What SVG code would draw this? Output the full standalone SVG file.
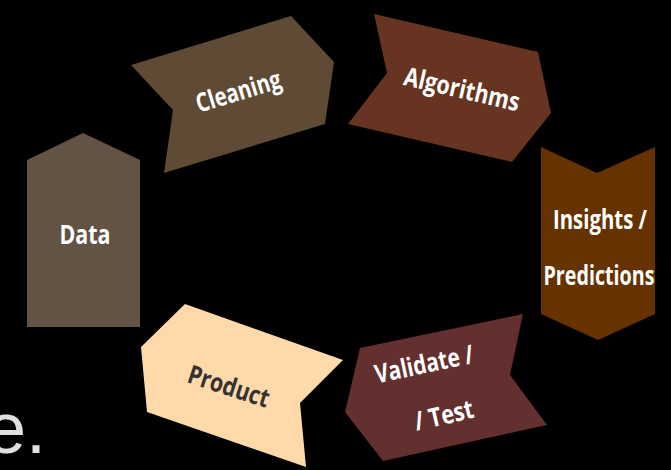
<svg xmlns="http://www.w3.org/2000/svg" width="671" height="470" viewBox="0 0 671 470">
  <style>
    .lbl { font-family: "Open Sans", "Liberation Sans", sans-serif; font-weight: bold; font-size: 26px; fill: #ffffff; text-anchor: middle; }
    .dark { fill: #333333; }
    .bg-text { font-family: "Liberation Sans", Arial, sans-serif; font-size: 72px; fill: #e0e0e0; }
  </style>
  <rect x="0" y="0" width="671" height="470" fill="#000000"/>
  <text class="bg-text" x="-14" y="453">e.</text>

  <g id="data">
    <polygon points="27,160 83,133 140,160 140,327 27,327" fill="#625344"/>
    <text class="lbl" x="85" y="244" textLength="51" lengthAdjust="spacingAndGlyphs">Data</text>
  </g>

  <g id="cleaning">
    <polygon points="131,65 291,16 334,62 325,124 164,173 173,110" fill="#5f4b35"/>
    <text class="lbl" transform="translate(241,100) rotate(-17)" x="0" y="0" textLength="88" lengthAdjust="spacingAndGlyphs">Cleaning</text>
  </g>

  <g id="algorithms">
    <polygon points="374,14 538,52 551,113 512,162 348,124 387,73" fill="#663420"/>
    <text class="lbl" transform="translate(460,98) rotate(13)" x="0" y="0" textLength="118" lengthAdjust="spacingAndGlyphs">Algorithms</text>
  </g>

  <g id="insights">
    <polygon points="541,147 597,173 655,147 655,314 598,340 541,314" fill="#663300"/>
    <text class="lbl" x="600" y="229" textLength="94" lengthAdjust="spacingAndGlyphs">Insights /</text>
    <text class="lbl" x="599" y="285" textLength="111" lengthAdjust="spacingAndGlyphs">Predictions</text>
  </g>

  <g id="validate">
    <polygon points="360,348 523,314 510,375 547,425 383,461 345,412" fill="#632f2f"/>
    <text class="lbl" transform="translate(426,373) rotate(-12)" x="0" y="0" textLength="100" lengthAdjust="spacingAndGlyphs">Validate /</text>
    <text class="lbl" transform="translate(446,424) rotate(-13)" x="0" y="0" textLength="60" lengthAdjust="spacingAndGlyphs">/ Test</text>
  </g>

  <g id="product">
    <polygon points="185,304 343,360 300,403 306,467 147,412 141,347" fill="#ffd9aa"/>
    <text class="lbl dark" transform="translate(226,395) rotate(18)" x="0" y="0" textLength="84" lengthAdjust="spacingAndGlyphs">Product</text>
  </g>

  <g id="connectors"/>
</svg>
